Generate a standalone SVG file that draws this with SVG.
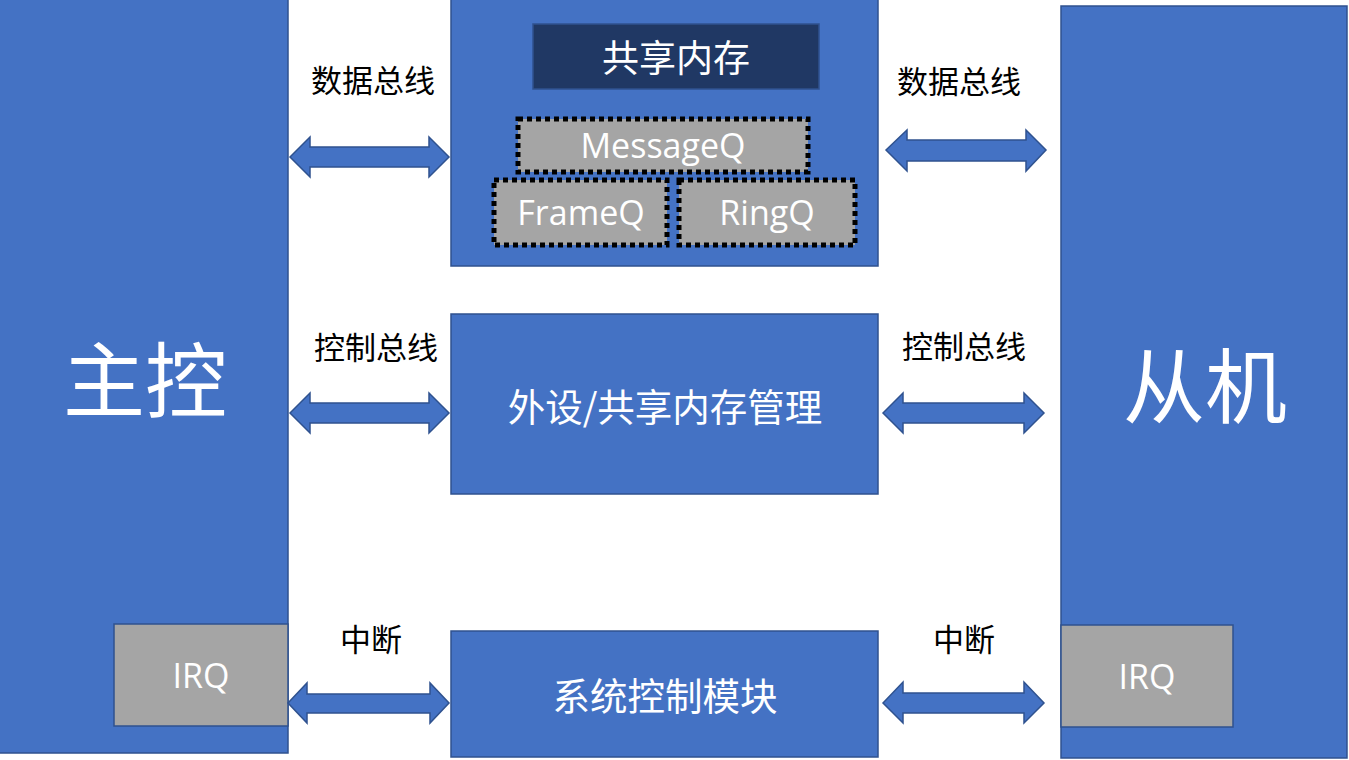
<svg xmlns="http://www.w3.org/2000/svg" width="1349" height="760" viewBox="0 0 1349 760">
<style>
.blk{fill:#4472C4;stroke:#2F528F;stroke-width:1.5}
.irq{fill:#A5A5A5;stroke:#2F528F;stroke-width:1.5}
.q{fill:#A5A5A5;stroke:#000;stroke-width:5;stroke-dasharray:5 4}
.arr{fill:#4472C4;stroke:#2F528F;stroke-width:1.5}
text{font-family:"Noto Sans CJK SC","Open Sans",sans-serif;text-anchor:middle;dominant-baseline:central}
.lat{font-family:"Open Sans","Noto Sans CJK SC",sans-serif}
.w{fill:#fff}
.lbl{fill:#000;font-size:31px}
</style>
<rect width="1349" height="760" fill="#fff"/>
<g id="master">
<rect class="blk" x="-1" y="-1" width="289" height="754"/>
<text class="w" x="145" y="375" font-size="82">主控</text>
</g>
<g id="master-irq">
<rect class="irq" x="114" y="624" width="174" height="102"/>
<text class="w lat" x="201" y="675" font-size="34">IRQ</text>
</g>
<g id="slave">
<rect class="blk" x="1061" y="6" width="286" height="752"/>
<text class="w" x="1205" y="381" font-size="82">从机</text>
</g>
<g id="slave-irq">
<rect class="irq" x="1061" y="625" width="172" height="102"/>
<text class="w lat" x="1147" y="676" font-size="34">IRQ</text>
</g>
<g id="shared-mem">
<rect class="blk" x="451" y="-1" width="427" height="267"/>
<rect x="533" y="24" width="286" height="65" fill="#203864" stroke="#2F528F" stroke-width="1.5"/>
<text class="w" x="676" y="56" font-size="37">共享内存</text>
</g>
<g id="messageq">
<rect class="q" x="518" y="119" width="290" height="53"/>
<text class="w lat" x="663" y="145" font-size="34">MessageQ</text>
</g>
<g id="frameq">
<rect class="q" x="494" y="180" width="173" height="65"/>
<text class="w lat" x="581" y="212" font-size="34">FrameQ</text>
</g>
<g id="ringq">
<rect class="q" x="679" y="180" width="176" height="65"/>
<text class="w lat" x="767" y="212" font-size="34">RingQ</text>
</g>
<g id="periph-mgmt">
<rect class="blk" x="451" y="314" width="427" height="180"/>
<text class="w" x="665" y="404" font-size="37.5">外设/共享内存管理</text>
</g>
<g id="sys-ctrl">
<rect class="blk" x="451" y="631" width="427" height="126"/>
<text class="w" x="665" y="693" font-size="37.5">系统控制模块</text>
</g>
<g id="connectors">
<path class="arr" d="M290,157 L310,137 L310,147 L429,147 L429,137 L449,157 L429,177 L429,167 L310,167 L310,177 Z"/>
<path class="arr" d="M886,150 L907,130 L907,140 L1026,140 L1026,130 L1046,150 L1026,171 L1026,161 L907,161 L907,171 Z"/>
<path class="arr" d="M290,413 L310,393 L310,403 L429,403 L429,393 L449,413 L429,433 L429,423 L310,423 L310,433 Z"/>
<path class="arr" d="M883,413 L903,393 L903,403 L1024,403 L1024,393 L1044,413 L1024,433 L1024,423 L903,423 L903,433 Z"/>
<path class="arr" d="M288,703 L307,683 L307,694 L430,694 L430,683 L449,703 L430,723 L430,713 L307,713 L307,723 Z"/>
<path class="arr" d="M883,703 L903,682 L903,693 L1024,693 L1024,682 L1044,703 L1024,723 L1024,713 L903,713 L903,723 Z"/>
</g>
<g id="labels">
<text class="lbl" x="373" y="78">数据总线</text>
<text class="lbl" x="959" y="79">数据总线</text>
<text class="lbl" x="376" y="345">控制总线</text>
<text class="lbl" x="964" y="344">控制总线</text>
<text class="lbl" x="371" y="637">中断</text>
<text class="lbl" x="964" y="637">中断</text>
</g>
</svg>
